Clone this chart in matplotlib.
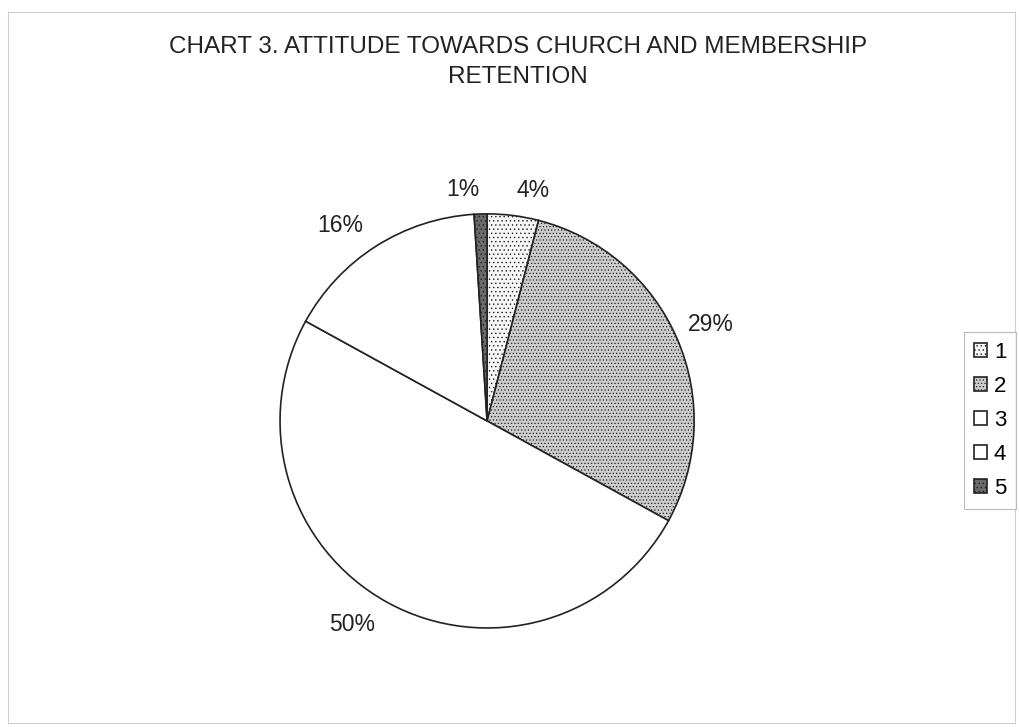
import matplotlib.pyplot as plt
from matplotlib.patches import Rectangle

plt.rcParams['font.family'] = ['Liberation Sans', 'DejaVu Sans']
plt.rcParams['hatch.linewidth'] = 0.5

categories = ['1', '2', '3', '4', '5']
shares = [4, 29, 50, 16, 1]
pct_labels = [f"{v}%" for v in shares]
colors = ['#f6f6f6', '#cdcdcd', 'white', 'white', '#6a6a6a']
hatches = ['....', '.....', '', '', '....']

fig = plt.figure(figsize=(10.19, 7.27), dpi=100)
fig.patch.set_facecolor('white')

# faint scanned page frame
fig.patches.append(Rectangle((0.008, 0.005), 0.988, 0.978, transform=fig.transFigure,
                             fill=False, edgecolor='#cccccc', linewidth=0.8))

ax = fig.add_axes([0.224, 0.065, 0.508, 0.712])
wedges, texts = ax.pie(shares, labels=pct_labels, colors=colors, startangle=90,
                       counterclock=False, labeldistance=1.12,
                       wedgeprops=dict(edgecolor='#222222', linewidth=1.2),
                       textprops=dict(fontsize=16.5, color='#222222'))
for w, h in zip(wedges, hatches):
    w.set_hatch(h)
# labels close to the horizontal are centred and pushed a bit further out
for t in texts:
    x, y = t.get_position()
    if abs(y) < 0.6:
        t.set_ha('center')
        t.set_position((x * 1.05, y * 1.05))
ax.set_xlim(-1.25, 1.25)
ax.set_ylim(-1.25, 1.25)
ax.set_aspect('equal')

fig.text(0.508, 0.915, "CHART 3. ATTITUDE TOWARDS CHURCH AND MEMBERSHIP\nRETENTION",
         ha='center', va='center', fontsize=17.5, color='#222222', linespacing=1.45)

leg = fig.legend(wedges, categories, loc='upper left', bbox_to_anchor=(0.946, 0.543),
                 bbox_transform=fig.transFigure, fontsize=16, frameon=True,
                 fancybox=False, handlelength=0.6, handleheight=0.6,
                 handletextpad=0.3, labelspacing=0.58, borderpad=0.45,
                 borderaxespad=0)
leg.get_frame().set_edgecolor('#aaaaaa')
leg.get_frame().set_linewidth(0.8)

plt.savefig("out.png", dpi=100)
